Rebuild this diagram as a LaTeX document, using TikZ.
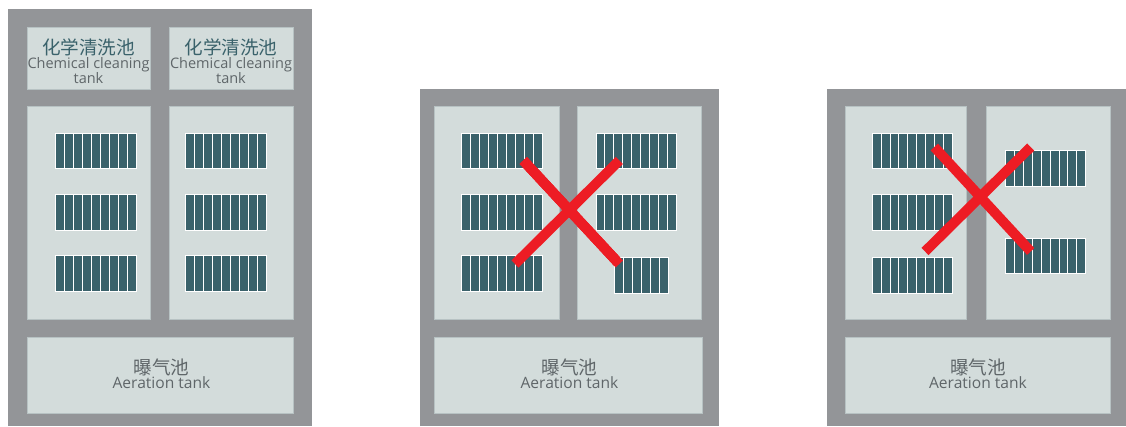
\documentclass[tikz,border=0pt]{standalone}
\usepackage{fontspec}
\setmainfont{Open Sans}
\newfontfamily\cjk{Noto Sans CJK SC}
\definecolor{wallgray}{HTML}{939598}
\definecolor{tankgray}{HTML}{D3DCDB}
\definecolor{tankedge}{HTML}{B7C2C3}
\definecolor{moduleteal}{HTML}{3A626B}
\definecolor{crossred}{HTML}{ED1C24}
\definecolor{labelgray}{HTML}{5F6669}
\tikzset{
  wall/.style={fill=wallgray, draw=none},
  tank/.style={fill=tankgray, draw=tankedge, line width=0.6pt, inner sep=0pt},
  zhtext/.style={inner sep=0pt, font=\cjk\fontsize{18.6}{19}\selectfont},
  entext/.style={inner sep=0pt, text=labelgray, font=\fontsize{14.5}{15}\selectfont},
  airtext/.style={inner sep=0pt, text=labelgray, font=\fontsize{15.6}{16}\selectfont},
  bar/.style={fill=moduleteal, draw=white, line width=0.7pt},
  crossline/.style={draw=crossred, line width=10pt}
}
% membrane module: left, top, number of bars
\newcommand{\module}[3]{
  \foreach \i in {1,...,#3}
    \draw[bar] ({#1+(\i-1)*8.93},#2) rectangle ({#1+\i*8.93},{#2+35.5});
}
\begin{document}
\begin{tikzpicture}[x=1pt, y=-1pt]
  \useasboundingbox (0,0) rectangle (1126,426);
  % first basin
  \fill[wall] (7.5,8.5) rectangle (312,426);
  \node[tank, minimum width=123.5, minimum height=62] (chemA) at (88.75,58) {};
  \node[tank, minimum width=123.5, minimum height=62] (chemB) at (231.25,58) {};
  \node[tank, minimum width=123.5, minimum height=213] (tankA) at (88.75,212.5) {};
  \node[tank, minimum width=123.5, minimum height=213] (tankB) at (231.25,212.5) {};
  \node[tank, minimum width=266, minimum height=76] (airA) at (160,375) {};
  \node[zhtext, text=moduleteal] (chemAzh) at (88.5,47.5) {化学清洗池};
  \node[entext] (chemAen) at (88.5,65.2) {Chemical cleaning};
  \node[entext] (chemAtk) at (88.5,78) {tank};
  \node[zhtext, text=moduleteal] (chemBzh) at (231,47.5) {化学清洗池};
  \node[entext] (chemBen) at (231,65.2) {Chemical cleaning};
  \node[entext] (chemBtk) at (231,78) {tank};
  \node[zhtext, text=labelgray] (airAzh) at (161.5,367) {曝气池};
  \node[airtext] (airAen) at (161.5,383) {Aeration tank};
  \foreach \y in {133,194.7,255.7} {
    \module{55.5}{\y}{9}
    \module{185.5}{\y}{9}
  }
  % second basin
  \fill[wall] (419.5,88.5) rectangle (719,426);
  \node[tank, minimum width=125.5, minimum height=213] (tankC) at (496.75,212.5) {};
  \node[tank, minimum width=124.5, minimum height=213] (tankD) at (639.25,212.5) {};
  \node[tank, minimum width=268, minimum height=76] (airB) at (568,375) {};
  \node[zhtext, text=labelgray] (airBzh) at (569.5,367) {曝气池};
  \node[airtext] (airBen) at (569.5,383) {Aeration tank};
  \foreach \y in {133,194.7,255.7}
    \module{461.7}{\y}{9}
  \module{595.9}{133}{9}
  \module{595.9}{194.7}{9}
  \module{614.7}{257.5}{6}
  \draw[crossline] (523.3,160.5) -- (619.3,264);
  \draw[crossline] (619.3,160.5) -- (515,264);
  % third basin
  \fill[wall] (827,88.5) rectangle (1126,426);
  \node[tank, minimum width=120.5, minimum height=213] (tankE) at (906,212.5) {};
  \node[tank, minimum width=123.5, minimum height=213] (tankF) at (1048.5,212.5) {};
  \node[tank, minimum width=264.5, minimum height=76] (airC) at (978,375) {};
  \node[zhtext, text=labelgray] (airCzh) at (978,367) {曝气池};
  \node[airtext] (airCen) at (978,383) {Aeration tank};
  \module{872}{133}{9}
  \module{872}{194.7}{9}
  \module{872}{257.5}{9}
  \module{1005.3}{150.7}{9}
  \module{1005.3}{238}{9}
  \draw[crossline] (934.3,147) -- (1030.7,251.5);
  \draw[crossline] (1030.7,147) -- (925,251.5);
\end{tikzpicture}
\end{document}
